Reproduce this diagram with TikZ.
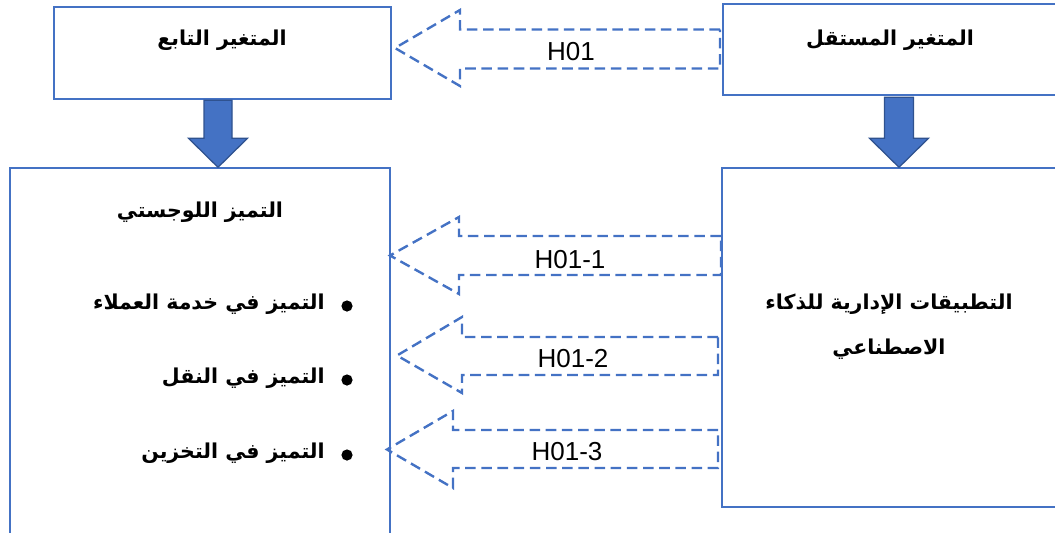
\documentclass[tikz,border=0pt]{standalone}
\usepackage{fontspec}
\setmainfont{Liberation Sans}
\newfontfamily\arabicfont[Script=Arabic]{DejaVu Sans}
\TeXXeTstate=1
\usetikzlibrary{positioning, calc}
\definecolor{boxblue}{HTML}{4472C4}
\definecolor{edgeblue}{HTML}{2F528F}

\begin{document}
\begin{tikzpicture}[
    x=0.025cm, y=-0.025cm,
    box/.style={draw=boxblue, line width=1.8pt, rectangle, inner sep=0pt},
    ar/.style={font=\arabicfont\bfseries\fontsize{14.6}{20}\selectfont, inner sep=0pt},
    hyp/.style={draw=boxblue, line width=1.7pt, dash pattern=on 7.5pt off 4pt},
    hlbl/.style={font=\fontsize{18.5}{22}\selectfont, inner sep=0pt},
    blockarr/.style={fill=boxblue, draw=edgeblue, line width=0.9pt},
    dot/.style={circle, fill=black, inner sep=0pt, minimum size=0.28cm}
]
\useasboundingbox (0,0) rectangle (1055,533);

% ===== Cajas de variables =====
\node[box, minimum width=8.425cm, minimum height=2.3cm] (dep) at (222.5,53) {};
\node[box, minimum width=9.05cm, minimum height=2.275cm] (indep) at (904,49.5) {};
\node[box, minimum width=9.5cm, minimum height=9.8cm] (logx) at (200,364) {};
\node[box, minimum width=9.075cm, minimum height=8.475cm] (aiapp) at (903.5,337.5) {};

% ===== Textos =====
\node[ar] (deplbl) at (222,40) {\beginR المتغير التابع\endR};
\node[ar] (indeplbl) at (890,40) {\beginR المتغير المستقل\endR};
\node[ar] (logxlbl) at (200,212) {\beginR التميز اللوجستي\endR};
\node[ar, align=center] (aiapplbl) at (889,327) {\beginR التطبيقات الإدارية للذكاء\endR\\[12pt]\beginR الاصطناعي\endR};

% dimensiones con viñetas
\node[dot] (b1) at (347,306) {};
\node[dot] (b2) at (347,380) {};
\node[dot] (b3) at (347,455) {};
\node[ar, anchor=east] (d1) at (325,304) {\beginR التميز في خدمة العملاء\endR};
\node[ar, anchor=east] (d2) at (325,378) {\beginR التميز في النقل\endR};
\node[ar, anchor=east] (d3) at (325,453) {\beginR التميز في التخزين\endR};

% ===== Flechas de bloque =====
\draw[blockarr] (dep.south) ++(-18.5,0) -- ++(0,38) -- ++(-15.5,0) -- ++(29.5,29) -- ++(29.5,-29) -- ++(-15.5,0) -- ++(0,-38) -- cycle;
\draw[blockarr] (indep.south) ++(-19.5,1) -- ++(0,41) -- ++(-15,0) -- ++(29.5,29) -- ++(29.5,-29) -- ++(-15,0) -- ++(0,-41) -- cycle;

% ===== Hipotesis (flechas discontinuas) =====
\draw[hyp] (720,29.5) -- (460,29.5) -- (460,10) -- (395,48) -- (460,86) -- (460,68.5) -- (720,68.5) -- cycle;
\draw[hyp] (721,236) -- (459,236) -- (459,217) -- (390,255.5) -- (459,294) -- (459,275) -- (721,275) -- cycle;
\draw[hyp] (718,337) -- (462,337) -- (462,317) -- (397,355.5) -- (462,393) -- (462,375) -- (718,375) -- cycle;
\draw[hyp] (718,430) -- (453,430) -- (453,411) -- (387,449.5) -- (453,488) -- (453,468) -- (718,468) -- cycle;

\node[hlbl] (h0) at (571,52) {H01};
\node[hlbl] (h1) at (570,260) {H01-1};
\node[hlbl] (h2) at (573,359) {H01-2};
\node[hlbl] (h3) at (567,452) {H01-3};

\end{tikzpicture}
\end{document}
